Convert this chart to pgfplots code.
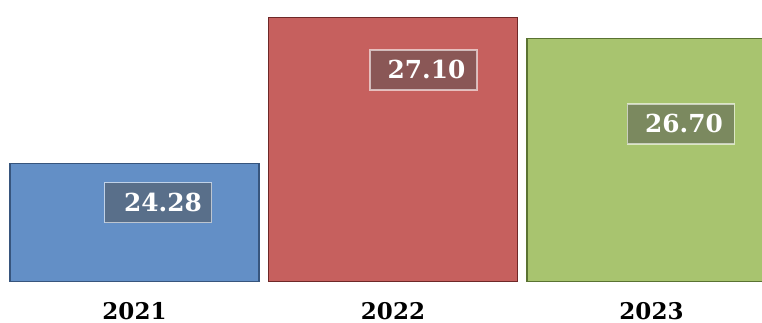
\documentclass[border=0pt]{standalone}
\usepackage{pgfplots}
\pgfplotsset{compat=1.18}
\usetikzlibrary{calc}
\usepackage{fontspec}
\setmainfont{DejaVu Serif}
\definecolor{cblue}{RGB}{99,143,198}
\definecolor{cred}{RGB}{198,96,94}
\definecolor{cgreen}{RGB}{168,196,111}
\definecolor{bblue}{RGB}{55,85,125}
\definecolor{bred}{RGB}{110,40,40}
\definecolor{bgreen}{RGB}{90,115,50}
\definecolor{lbox}{RGB}{80,80,80}
\begin{document}
\begin{tikzpicture}[x=1pt,y=1pt,
  lbl/.style={fill=lbox, fill opacity=0.5, draw=white, draw opacity=0.6, line width=0.8pt,
    text=white, text opacity=1, font=\fontsize{12.4}{14}\selectfont\bfseries,
    minimum width=53.5pt, minimum height=20pt, inner sep=0pt}]
\begin{axis}[
  name=ax,
  scale only axis,
  width=381pt, height=141pt,
  xmin=-0.5203, xmax=2.4275,
  ymin=-0.01, ymax=5.444,
  axis line style={draw=none},
  y filter/.expression={y-22},
  ybar, bar width=0.963, bar shift=0pt,
  xtick={0,1,2}, xticklabels={2021,2022,2023},
  ytick=\empty, major tick length=0pt,
  xticklabel style={font=\fontsize{11.5}{13}\selectfont\bfseries, yshift=-6.5pt},
  clip=true,
]
\addplot[fill=cblue, draw=bblue, line width=0.7pt] coordinates {(0,24.28)};
\addplot[fill=cred, draw=bred, line width=0.7pt] coordinates {(1,27.10)};
\addplot[fill=cgreen, draw=bgreen, line width=0.7pt] coordinates {(2,26.70)};
\node[lbl] at (axis cs:0.091,1.525) {\hspace*{5pt}24.28};
\node[lbl] at (axis cs:1.118,4.093) {\hspace*{3pt}27.10};
\node[lbl] at (axis cs:2.114,3.05) {\hspace*{3pt}26.70};
\end{axis}
\pgfresetboundingbox
\path[use as bounding box] ($(ax.south west)+(0,-20)$) rectangle (ax.north east);
\end{tikzpicture}
\end{document}
